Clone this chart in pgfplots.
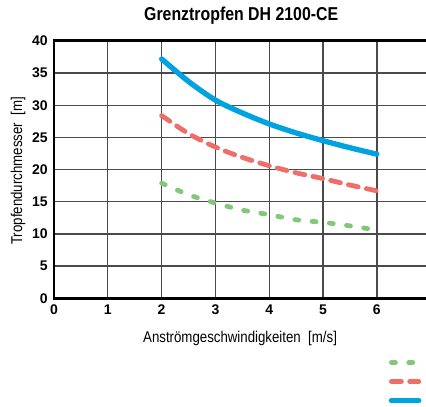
\documentclass[border=0pt]{standalone}
\usepackage{fontspec}
\setmainfont{Liberation Sans}[FakeStretch=0.85]
\newfontfamily\tickfont{Liberation Sans}
\usepackage{pgfplots}
\pgfplotsset{compat=1.18}
\definecolor{cblue}{HTML}{00A3E0}
\definecolor{cred}{HTML}{EE6E6A}
\definecolor{cgreen}{HTML}{82C878}
\definecolor{cgrid}{HTML}{4A4A4A}

\begin{document}
\begin{tikzpicture}
% the reference is cut at its right edge, so is this one
\path[use as bounding box, clip] (0pt,0pt) rectangle (319.5pt,-305.25pt);
\begin{axis}[
    at={(40.5pt,-223.7pt)}, anchor=south west,
    scale only axis, width=282.5pt, height=193pt,
    xmin=0, xmax=7, ymin=0, ymax=40,
    xtick={0,...,7}, ytick={0,5,...,40},
    grid=major, major grid style={cgrid, line width=1pt},
    axis line style={line width=2.2pt, black},
    tick style={draw=none},
    /pgf/number format/assume math mode=true,
    ticklabel style={font=\tickfont\fontsize{10.5pt}{12pt}\selectfont\bfseries, inner sep=0pt},
    yticklabel style={xshift=-4.5pt},
    xticklabel style={yshift=-5pt},
    title={Grenztropfen DH 2100-CE},
    title style={at={(axis description cs:0.497,1.066)}, anchor=center,
        font=\fontsize{14pt}{16pt}\selectfont\bfseries},
    xlabel={Anströmgeschwindigkeiten~~[m/s]},
    xlabel style={at={(axis description cs:0.494,-0.157)}, anchor=center,
        font=\fontsize{11.7pt}{14pt}\selectfont},
    ylabel={Tropfendurchmesser~~[m]},
    ylabel style={at={(axis description cs:-0.0956,0.495)}, anchor=center,
        font=\fontsize{11.7pt}{14pt}\selectfont},
    legend style={at={(axis description cs:0.888,-0.2118)}, anchor=north west,
        draw=none, fill=none, inner sep=0pt, row sep=0pt,
        nodes={inner sep=0pt, minimum height=14.25pt}},
    legend image code/.code={\draw[#1] (0pt,0pt) -- (20.5pt,0pt);},
]
\addplot[smooth, cgreen, line width=3.6pt, line cap=round,
    dash pattern=on 3pt off 10pt] coordinates {
    (2,17.9) (2.5,16.1) (3,14.8) (3.5,13.7) (4,13.0)
    (4.5,12.2) (5,11.8) (5.5,11.25) (6,10.6)};
\addlegendentry{\strut}
\addplot[smooth, cred, line width=3.6pt, line cap=round,
    dash pattern=on 7.5pt off 6.2pt] coordinates {
    (2,28.4) (2.5,25.6) (3,23.5) (3.5,21.9) (4,20.6)
    (4.5,19.5) (5,18.6) (5.5,17.6) (6,16.7)};
\addlegendentry{\strut}
\addplot[smooth, cblue, line width=4pt, line cap=round] coordinates {
    (2,37.2) (2.5,33.7) (3,30.8) (3.5,28.8) (4,27.1)
    (4.5,25.7) (5,24.5) (5.5,23.4) (6,22.4)};
\addlegendentry{\strut}
\end{axis}
\end{tikzpicture}
\end{document}
